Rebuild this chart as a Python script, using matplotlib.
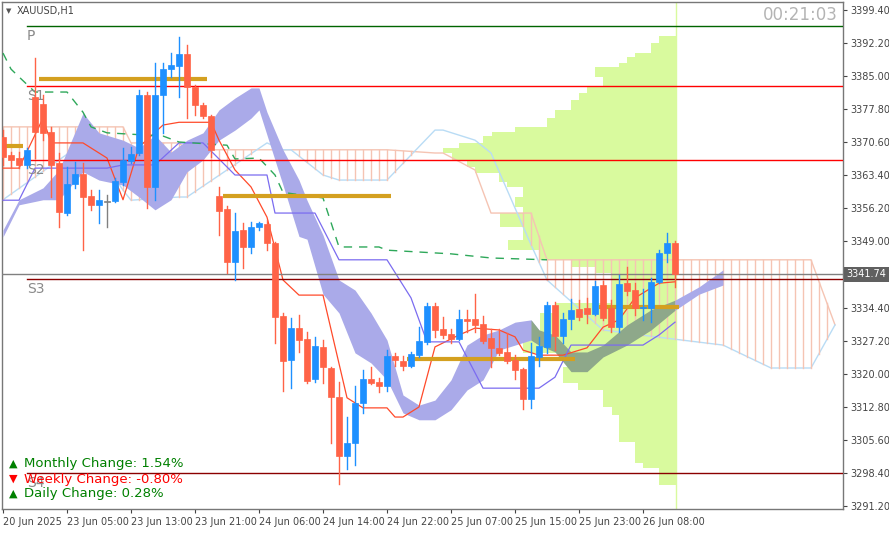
import matplotlib
matplotlib.use("Agg")
import matplotlib.pyplot as plt
import numpy as np
from matplotlib.patches import Rectangle

# ---------------- data ----------------
opens  = [3371.7,3367.8,3367.1,3365.6,3380.4,3378.9,3372.8,3366.0,3355.1,3361.4,
          3363.6,3358.8,3356.9,3357.5,3357.7,3361.9,3366.5,3368.2,3380.9,3360.8,
          3380.9,3386.5,3387.2,3389.8,3382.6,3378.7,3376.3,3358.8,3356.0,3344.4,
          3351.4,3347.7,3352.1,3352.7,3348.6,3332.6,3323.0,3330.0,3327.6,3318.9,
          3325.9,3321.3,3315.0,3302.1,3304.9,3313.7,3318.9,3318.2,3317.4,3323.9,
          3322.8,3321.7,3324.1,3327.0,3334.8,3329.8,3328.7,3327.6,3332.0,3332.0,
          3330.9,3327.8,3325.7,3324.8,3323.0,3321.1,3314.5,3323.7,3325.9,3335.0,
          3328.3,3332.0,3334.2,3334.4,3333.1,3339.4,3334.4,3330.2,3339.8,3338.3,
          3334.4,3334.4,3340.1,3346.4,3348.6]
highs  = [3373.2,3368.4,3368.4,3369.3,3388.9,3380.9,3373.9,3368.2,3365.2,3366.2,
          3366.0,3360.1,3360.1,3359.0,3362.7,3369.3,3369.5,3381.9,3381.5,3387.8,
          3387.8,3390.0,3393.5,3391.8,3383.0,3379.1,3376.5,3360.8,3356.6,3355.1,
          3352.9,3353.1,3353.1,3353.6,3348.8,3333.3,3332.2,3332.9,3329.2,3328.1,
          3327.4,3321.5,3318.2,3310.6,3317.4,3320.9,3321.5,3319.1,3325.2,3324.6,
          3323.9,3324.8,3330.2,3335.5,3335.5,3332.4,3329.8,3334.0,3334.0,3337.4,
          3332.6,3329.8,3329.8,3328.9,3324.1,3321.3,3326.8,3328.1,3335.7,3335.7,
          3333.3,3336.4,3336.1,3336.6,3340.3,3340.3,3336.1,3341.6,3343.3,3339.8,
          3338.5,3340.9,3347.0,3350.7,3349.0]
lows   = [3365.6,3365.2,3364.9,3364.9,3367.1,3371.0,3358.6,3352.1,3354.7,3360.6,
          3347.0,3355.8,3353.0,3352.1,3357.5,3361.2,3366.0,3367.8,3356.2,3357.9,
          3372.6,3384.8,3380.4,3375.8,3376.5,3375.8,3367.3,3350.3,3342.0,3340.5,
          3343.1,3346.4,3351.4,3347.0,3326.8,3316.3,3316.9,3324.8,3318.0,3318.3,
          3318.0,3304.9,3296.0,3299.3,3300.1,3311.5,3317.8,3316.1,3316.3,3321.7,
          3320.9,3321.5,3323.7,3326.5,3328.1,3327.9,3326.8,3327.4,3329.2,3329.2,
          3326.8,3321.5,3324.2,3322.4,3318.9,3312.3,3312.6,3321.7,3324.6,3325.2,
          3326.8,3329.8,3331.8,3331.1,3332.9,3331.8,3329.2,3329.2,3337.2,3332.9,
          3331.8,3331.4,3339.8,3344.4,3339.0]
closes = [3367.3,3366.7,3365.6,3368.9,3372.8,3372.6,3365.6,3355.3,3361.4,3363.6,
          3358.6,3356.9,3358.0,3357.5,3362.1,3366.7,3368.0,3380.9,3360.8,3380.9,
          3386.5,3387.4,3389.8,3382.6,3378.7,3376.3,3368.9,3355.6,3344.4,3351.2,
          3347.7,3352.1,3352.9,3348.6,3332.4,3322.8,3330.0,3327.4,3318.5,3326.1,
          3321.5,3315.0,3302.1,3304.9,3313.7,3318.9,3318.0,3317.4,3323.9,3323.0,
          3321.7,3324.4,3327.2,3334.8,3329.6,3328.5,3327.6,3332.0,3331.6,3330.7,
          3327.2,3325.7,3324.6,3322.8,3320.9,3314.5,3323.9,3326.1,3335.0,3328.3,
          3332.0,3333.9,3332.4,3333.1,3339.2,3332.2,3330.2,3339.6,3338.1,3334.4,
          3334.6,3340.1,3346.4,3348.6,3341.7]

time_labels = ["20 Jun 2025","23 Jun 05:00","23 Jun 13:00","23 Jun 21:00","24 Jun 06:00",
               "24 Jun 14:00","24 Jun 22:00","25 Jun 07:00","25 Jun 15:00","25 Jun 23:00",
               "26 Jun 08:00"]
price_ticks = [3399.40,3392.20,3385.00,3377.80,3370.60,3363.40,3356.20,3349.00,
               3341.80,3334.40,3327.20,3320.00,3312.80,3305.60,3298.40,3291.20]

pivot_P = 3395.9
lvl_S1 = 3382.8
lvl_S2 = 3366.7
lvl_S3 = 3340.7
lvl_S4 = 3298.4
last_price = 3341.74

# daily open segments (start bar, end bar, price)
daily_opens = [(-1, 2, 3369.7), (4, 25, 3384.4), (27, 48, 3358.8), (50, 71, 3323.2), (74, 84, 3334.6)]

# volume profile: price boundaries (top->bottom) and volumes
vp_edges = [3393.7,3392.2,3390.0,3389.2,3387.8,3387.0,3384.8,3382.6,3381.3,3379.8,3377.6,
            3375.8,3373.9,3372.8,3371.9,3370.4,3369.3,3368.2,3366.7,3365.2,3363.8,3361.9,
            3360.8,3358.6,3356.4,3355.1,3352.1,3349.2,3347.0,3344.9,3343.3,3342.0,3335.5,
            3333.3,3328.9,3324.6,3321.5,3318.0,3316.5,3312.8,3311.1,3305.2,3300.6,3299.5,3295.8]
vp_vol = [17,25,41,49,57,81,73,89,97,105,121,129,161,184,193,217,233,224,209,201,177,169,
          153,161,153,176,153,168,136,104,81,64,121,136,153,104,113,98,73,64,57,41,33,17]

# shaded cloud (upper/lower) at bar indices
cloud_i  = [0,2,5,7,10,12,15,17,19,21,23,25,27,29,31,32,33,35,37,38,40,42,44,46,48,50,52,54,56,58,60,62,64,66,
            67,69,71,73,75,78,81,84,87,90]
cloud_hi = [3351.4,3358.0,3360.6,3364.5,3376.9,3372.6,3371.0,3369.3,3372.1,3368.4,3371.0,3372.6,3377.6,3380.2,
            3382.4,3382.4,3377.1,3368.9,3362.3,3357.9,3350.3,3340.5,3338.3,3333.3,3327.4,3315.4,3313.2,3314.3,
            3318.7,3326.3,3328.5,3329.6,3331.3,3331.8,3329.6,3328.5,3324.8,3324.8,3326.3,3330.7,3334.0,3336.1,
            3339.0,3342.7]
cloud_lo = [3349.9,3356.9,3358.0,3358.0,3364.1,3362.3,3361.2,3358.6,3355.8,3358.0,3364.1,3366.7,3371.0,3373.2,
            3375.8,3377.6,3372.1,3361.2,3350.0,3349.4,3337.4,3333.3,3324.6,3322.4,3318.7,3311.5,3310.0,3310.0,
            3312.2,3316.5,3318.7,3325.2,3326.3,3327.4,3326.3,3324.8,3320.5,3320.5,3323.7,3326.3,3329.6,3333.9,
            3337.4,3339.4]

# hatched (forward) cloud
hat_i  = [0,10,11,15,16,22,23,33,35,36,40,42,48,54,55,59,61,66,68,75,82,90,96,101,104]
hat_up = [3373.9,3373.9,3373.9,3373.9,3370.4,3370.4,3368.9,3368.9,3368.9,3368.9,3368.9,3368.9,3368.9,
          3368.2,3368.2,3364.5,3355.1,3355.1,3344.9,3344.9,3344.9,3344.9,3344.9,3344.9,3330.7]
hat_lo = [3358.0,3370.4,3370.4,3360.1,3357.9,3358.6,3358.6,3370.4,3368.9,3368.9,3363.4,3362.3,3362.3,
          3373.2,3373.2,3371.0,3368.2,3348.2,3340.5,3329.6,3328.0,3326.3,3321.3,3321.3,3330.7]

tenkan_i = [0,2,5,6,10,13,15,17,20,22,26,27,29,31,33,35,37,40,43,45,48,49,50,52,54,57,59,62,64,65,67,70,73,75,77,79,82,84]
tenkan_v = [3364.9,3364.9,3375.8,3370.4,3370.4,3367.1,3358.0,3369.5,3374.3,3374.9,3374.9,3371.0,3364.5,
            3360.8,3354.2,3340.5,3337.2,3337.2,3314.8,3312.6,3312.6,3310.6,3310.6,3312.8,3325.9,3328.5,
            3330.0,3329.6,3328.1,3325.2,3324.1,3324.1,3325.7,3330.2,3331.8,3336.6,3339.8,3340.1]
kijun_i = [0,2,4,13,15,19,22,25,29,33,34,39,42,48,51,53,57,60,67,69,71,80,82,84]
kijun_v = [3357.9,3357.9,3364.9,3364.9,3365.6,3365.6,3370.4,3370.4,3363.4,3363.4,3355.1,3355.1,3344.9,
           3344.9,3336.6,3327.0,3327.0,3316.9,3316.9,3319.3,3326.3,3326.3,3328.5,3331.3]
chikou_i = [0,1,2,4,8,9,10,11,13,20,22,28,29,32,34,35,40,42,47,48,56,61,68]
chikou_v = [3390.0,3386.5,3384.8,3381.5,3381.5,3379.3,3377.1,3373.9,3372.6,3371.9,3370.6,3369.9,
            3366.9,3367.1,3363.4,3359.6,3358.4,3347.7,3347.7,3347.0,3346.2,3345.3,3344.9]

# ---------------- figure ----------------
W, H = 889, 534
fig = plt.figure(figsize=(W/100, H/100), dpi=100)
ax = fig.add_axes([2/W, 1-509/H, (843-2)/W, (509-2)/H])
x_lo, x_hi = -0.125, 105.0
y_lo, y_hi = 3290.54, 3401.14
ax.set_xlim(x_lo, x_hi)
ax.set_ylim(y_lo, y_hi)
for s in ax.spines.values():
    s.set_color('#777777'); s.set_linewidth(1)

# volume profile
vp_right = 84.1
for k, v in enumerate(vp_vol):
    top, bot = vp_edges[k], vp_edges[k+1]
    w = v/8.0
    ax.add_patch(Rectangle((vp_right-w, bot), w, top-bot, facecolor='#d9fa9e', edgecolor='none', zorder=1))
ax.axvline(vp_right, color='#d9fa9e', lw=1, zorder=1)

# hatched cloud
ax.plot(hat_i, hat_up, color='#f5c4b3', lw=1, zorder=2)
ax.plot(hat_i, hat_lo, color='#b9dcf5', lw=1, zorder=2)
for b in range(0, 105):
    u = np.interp(b, hat_i, hat_up); l = np.interp(b, hat_i, hat_lo)
    if u > l:
        ax.plot([b, b], [l, u], color='#f5c4b3', lw=1, zorder=2)

# filled cloud
ax.fill_between(cloud_i[:35], cloud_lo[:35], cloud_hi[:35], color='#aaaae9', lw=0, zorder=3)
ax.fill_between(cloud_i[33:42], cloud_lo[33:42], cloud_hi[33:42], color='#8ea88a', lw=0, zorder=3)
ax.fill_between(cloud_i[41:], cloud_lo[41:], cloud_hi[41:], color='#aaaae9', lw=0, zorder=3)

# lines
ax.plot(tenkan_i, tenkan_v, color='#ff4a2a', lw=0.9, zorder=4)
ax.plot(kijun_i, kijun_v, color='#7b6cf0', lw=0.9, zorder=4)
ax.plot(chikou_i, chikou_v, color='#2ea85a', lw=1, dashes=(6, 5), zorder=4)

# horizontal levels
ax.plot([3, x_hi], [pivot_P]*2, color='#006400', lw=1, zorder=5)
for lv in (lvl_S1, lvl_S2):
    ax.plot([3, x_hi], [lv]*2, color='#ff0000', lw=1, zorder=5)
ax.plot([3, x_hi], [lvl_S3]*2, color='#8b0000', lw=1, zorder=5)
ax.plot([3, x_hi], [lvl_S4]*2, color='#8b0000', lw=1, zorder=5)
ax.axhline(last_price, color='#808080', lw=1, zorder=5)
for nm, lv in (("P", pivot_P), ("S1", lvl_S1), ("S2", lvl_S2), ("S3", lvl_S3), ("S4", lvl_S4)):
    ax.text(3.0, lv-0.6, nm, color='#8a8a8a', fontsize=10, va='top', ha='left', zorder=6)

for a, b, p in daily_opens:
    ax.plot([a+0.5, b+0.5], [p, p], color='#d4a020', lw=3, solid_capstyle='butt', zorder=6)

# candles
for i in range(len(opens)):
    o, h, l, c = opens[i], highs[i], lows[i], closes[i]
    col = '#1e90ff' if c > o else ('#ff6347' if c < o else '#808080')
    ax.plot([i, i], [l, h], color=col, lw=1, zorder=7)
    bot, top = min(o, c), max(o, c)
    ax.add_patch(Rectangle((i-0.4, bot), 0.8, max(top-bot, 0.15), facecolor=col, edgecolor=col, lw=0.5, zorder=7))

# axes ticks
ax.yaxis.tick_right()
ax.set_yticks(price_ticks)
ax.set_yticklabels(["" if abs(p-last_price) < 0.5 else f"{p:.2f}" for p in price_ticks])
ax.tick_params(axis='y', labelsize=7, colors='#444444', length=3, pad=2)
ax.set_xticks([8*k for k in range(len(time_labels))])
ax.set_xticklabels(time_labels, ha='left')
ax.tick_params(axis='x', labelsize=7, colors='#444444', length=3, pad=3)

ax.text(1.004, (last_price-y_lo)/(y_hi-y_lo), "3341.74", transform=ax.transAxes,
        fontsize=7, color='white', va='center', ha='left',
        bbox=dict(boxstyle='square,pad=0.25', fc='#606060', ec='none'), zorder=10, clip_on=False)

# header texts
fig.text(6/W, 1-11/H, "\u25BC", fontsize=5, color='#555555', va='center')
fig.text(17/W, 1-11/H, "XAUUSD,H1", fontsize=7, color='#444444', va='center')
fig.text(838/W, 1-15/H, "00:21:03", fontsize=12, color='#b4b4b4', va='center', ha='right')

# change texts
rows = [("\u25B2", "Monthly Change: 1.54%", '#008000', 464),
        ("\u25BC", "Weekly Change: -0.80%", '#ff0000', 479),
        ("\u25B2", "Daily Change: 0.28%", '#008000', 494)]
for sym, txt, col, y in rows:
    fig.text(9/W, 1-y/H, sym, fontsize=8, color=col, va='center')
    fig.text(24/W, 1-y/H, txt, fontsize=9.5, color=col, va='center')

fig.savefig("out.png", dpi=100, facecolor='white')
